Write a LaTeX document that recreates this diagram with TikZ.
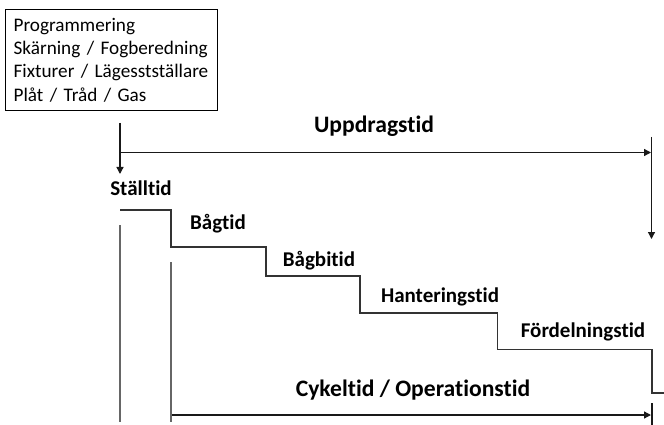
\documentclass[tikz,border=0pt]{standalone}
\usepackage{fontspec}
\setmainfont{Carlito}[Ligatures={NoCommon,NoContextual}]
\usetikzlibrary{arrows.meta}
\begin{document}
\begin{tikzpicture}[x=1pt,y=-1pt,
  arr/.style={draw=black!90, line width=1.3pt, -{Triangle[length=7pt,width=7pt]}},
  stair/.style={draw=black!80, line width=1.2pt},
  guide/.style={draw=black!60, line width=2pt},
  lbl/.style={font=\fontsize{21}{25}\selectfont\bfseries, anchor=base, inner sep=0},
  big/.style={font=\fontsize{23.6}{28}\selectfont\bfseries, anchor=base, inner sep=0}]
\useasboundingbox (0,0) rectangle (664,425);
% box
\node[draw=black, line width=1.3pt, anchor=north west, minimum width=212pt, minimum height=101pt,
      inner xsep=8.3pt, inner ysep=0pt, text width=195.4pt, align=left,
      font=\fontsize{19.2}{23.3}\selectfont] (box) at (4.7,9)
  {Programmering\\Skärning / Fogberedning\\Fixturer / Lägesstställare\\Plåt / Tråd / Gas};
% labels
\node[big] (upp) at (374,132.3) {Uppdragstid};
\node[lbl] (stall) at (141,195) {Ställtid};
\node[lbl] (bag) at (218,229) {Bågtid};
\node[lbl] (bagbi) at (319,266) {Bågbitid};
\node[lbl] (hant) at (440,302.7) {Hanteringstid};
\node[lbl] (ford) at (583,337) {Fördelningstid};
\node[big] (cyk) at (413,396) {Cykeltid / Operationstid};
% coordinates
\coordinate (a1s) at (120,123);
\coordinate (a1e) at (120,174);
\coordinate (a2s) at (120,152.5);
\coordinate (a2e) at (651,152.5);
\coordinate (a3s) at (651.5,137);
\coordinate (a3e) at (651.5,239);
\coordinate (g1s) at (120,225);
\coordinate (g1e) at (120,422);
\coordinate (g2s) at (171,262);
\coordinate (g2e) at (171,422);
\coordinate (a4s) at (171,415);
\coordinate (a4e) at (651,415);
\coordinate (g3s) at (652,403);
\coordinate (g3e) at (652,425);
\coordinate (s0) at (120,210);
\coordinate (s1) at (171,210);
\coordinate (s2) at (171,247);
\coordinate (s3) at (266,247);
\coordinate (s4) at (266,276);
\coordinate (s5) at (360,276);
\coordinate (s6) at (360,313);
\coordinate (s7) at (497.5,313);
\coordinate (s8) at (497.5,349.5);
\coordinate (s9) at (652,349.5);
\coordinate (s10) at (652,393);
\coordinate (s11) at (664,393);
% connectors
\draw[arr] (a1s) -- (a1e);
\draw[arr] (a2s) -- (a2e);
\draw[arr] (a3s) -- (a3e);
\draw[arr] (a4s) -- (a4e);
\draw[guide] (g1s) -- (g1e);
\draw[guide] (g2s) -- (g2e);
\draw[draw=black!90, line width=1.3pt] (g3s) -- (g3e);
\draw[stair] (s0) -- (s1) -- (s2) -- (s3) -- (s4) -- (s5) -- (s6) -- (s7) -- (s8) -- (s9) -- (s10) -- (s11);
\end{tikzpicture}
\end{document}
